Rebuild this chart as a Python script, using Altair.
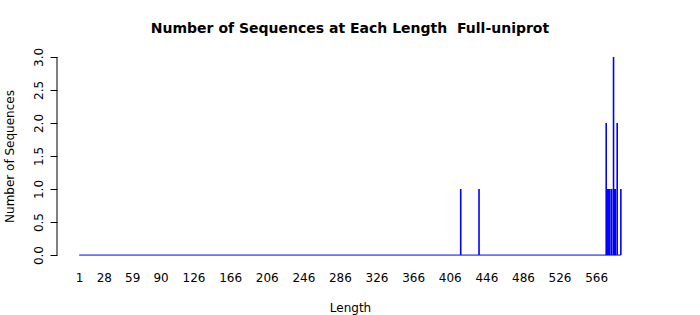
import altair as alt
import pandas as pd

# Sequence lengths with a non-zero count, and their counts
lengths = [418, 438, 577, 578, 579, 580, 581, 583, 585, 586, 587, 589, 593]
counts = [1, 1, 2, 1, 1, 1, 1, 1, 3, 1, 1, 2, 1]

# Full range of lengths in the table (zero counts draw as a flat line)
length_range = [1, 593]

x_tick_labels = [1, 28, 59, 90, 126, 166, 206, 246, 286, 326, 366, 406, 446, 486, 526, 566]
y_ticks = [0.0, 0.5, 1.0, 1.5, 2.0, 2.5, 3.0]

bars_df = pd.DataFrame({"Length": lengths, "Count": counts})
base_df = pd.DataFrame({"start": [length_range[0]], "end": [length_range[1]], "zero": [0]})
yaxis_df = pd.DataFrame({"lo": [min(y_ticks)], "hi": [max(y_ticks)]})

xscale = alt.Scale(domain=[-23.2, 617.2], nice=False, zero=False)
yscale = alt.Scale(domain=[-0.12, 3.12], nice=False, zero=False)

font = "DejaVu Sans"

x_axis = alt.Axis(
    values=x_tick_labels,
    domain=False,
    ticks=False,
    grid=False,
    labelFontSize=12,
    labelFont=font,
    labelColor="#000000",
    labelPadding=9,
    labelFlush=False,
    labelOverlap=False,
    labelSeparation=0,
    title="Length",
    titleFont=font,
    titleFontSize=12,
    titleFontWeight="normal",
    titleColor="#000000",
    titleBaseline="alphabetic",
    titleY=48,
)

y_axis = alt.Axis(
    values=y_ticks,
    format=".1f",
    domain=False,
    grid=False,
    tickSize=7,
    tickColor="#000000",
    labelAngle=270,
    labelAlign="center",
    labelBaseline="alphabetic",
    labelPadding=8,
    labelOverlap=False,
    labelFlush=False,
    labelFontSize=12,
    labelFont=font,
    labelColor="#000000",
    title="Number of Sequences",
    titleFont=font,
    titleFontSize=12,
    titleFontWeight="normal",
    titleColor="#000000",
    titleX=-48,
    titleBaseline="middle",
)

bars = alt.Chart(bars_df).mark_rule(color="#0000ff", strokeWidth=1.6).encode(
    x=alt.X("Length:Q", scale=xscale, axis=x_axis),
    y=alt.Y("Count:Q", scale=yscale, axis=y_axis),
    y2=alt.Y2(datum=0),
)

baseline = alt.Chart(base_df).mark_rule(color="#0000ff", strokeWidth=1).encode(
    x=alt.X("start:Q", scale=xscale, axis=x_axis),
    x2="end:Q",
    y=alt.Y("zero:Q", scale=yscale, axis=y_axis),
)

yaxis_line = alt.Chart(yaxis_df).mark_rule(color="#000000", strokeWidth=1).encode(
    x=alt.value(0),
    y=alt.Y("lo:Q", scale=yscale, axis=y_axis),
    y2="hi:Q",
)

chart = (
    alt.layer(bars, baseline, yaxis_line)
    .properties(
        width=586,
        height=214,
        background="#ffffff",
        title=alt.TitleParams(
            "Number of Sequences at Each Length\u00a0 Full-uniprot",
            font=font,
            fontSize=14,
            fontWeight="bold",
            color="#000000",
            anchor="middle",
            offset=11,
        ),
        autosize=alt.AutoSizeParams(type="none"),
        padding={"left": 57, "top": 49, "right": 57, "bottom": 52},
    )
    .configure_view(strokeWidth=0)
    .configure_axis(labelOverlap=False)
)

chart.save("out.html", embed_options={"renderer": "svg", "actions": False})
